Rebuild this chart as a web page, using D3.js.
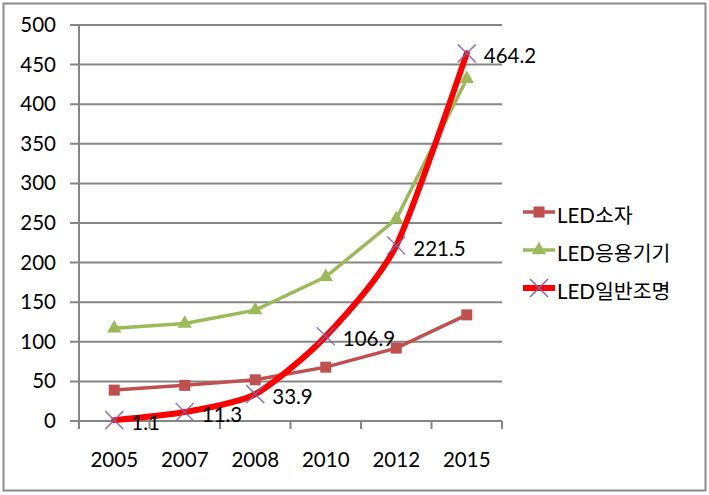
<!DOCTYPE html>
<html><head><meta charset="utf-8">
<script src="https://cdn.jsdelivr.net/npm/d3@7/dist/d3.min.js"></script>
<style>body{margin:0;background:#fff;}svg{display:block;}</style>
</head><body>
<svg id="c" width="709" height="495"></svg>
<script>
const categories = ["2005","2007","2008","2010","2012","2015"];
const seriesNames = ["LED소자","LED응용기기","LED일반조명"];
const ledDevice = [39, 45, 52, 68, 92, 134];
const ledApplied = [117, 123, 140, 182, 255, 432];
const ledLighting = [1.1, 11.3, 33.9, 106.9, 221.5, 464.2];
const yTicks = [0,50,100,150,200,250,300,350,400,450,500];

const font = "Lato, 'Noto Sans CJK KR', sans-serif";
const fs = 20.5;
const svg = d3.select("#c");
svg.append("rect").attr("x",3.5).attr("y",3.5).attr("width",702).attr("height",487)
  .attr("fill","#fff").attr("stroke","#8c8c8c").attr("stroke-width",2);

const x = d3.scaleBand().domain(categories).range([79,502]);
const y = d3.scaleLinear().domain([0,500]).range([421,25]);

// gridlines
svg.append("g").selectAll("line").data(yTicks).join("line")
  .attr("x1",70).attr("x2",502).attr("y1",d=>y(d)).attr("y2",d=>y(d))
  .attr("stroke","#868686").attr("stroke-width",2);

// y axis
const ya = svg.append("g").attr("transform","translate(79,0)")
  .call(d3.axisLeft(y).tickValues(yTicks).tickSize(0).tickPadding(23));
ya.select(".domain").attr("stroke","#868686").attr("stroke-width",2).attr("d","M0,25V428");
ya.selectAll("text").attr("font-family",font).attr("font-size",fs).attr("fill","#000");

// x axis
const xa = svg.append("g").attr("transform","translate(0,421)")
  .call(d3.axisBottom(x).tickSize(0).tickPadding(31));
xa.select(".domain").remove();
xa.selectAll("text").attr("font-family",font).attr("font-size",fs).attr("fill","#000");
const bounds = categories.map(c=>x(c)).concat([x.range()[1]]);
svg.append("g").selectAll("line").data(bounds).join("line")
  .attr("x1",d=>d).attr("x2",d=>d).attr("y1",421).attr("y2",429)
  .attr("stroke","#868686").attr("stroke-width",2);

const cx = c => x(c) + x.bandwidth()/2;

// series 1
const line = d3.line().x((d,i)=>cx(categories[i])).y(d=>y(d));
svg.append("path").attr("d",line(ledDevice)).attr("fill","none")
  .attr("stroke","#c0504d").attr("stroke-width",3.5);
svg.append("g").selectAll("rect").data(ledDevice).join("rect")
  .attr("x",(d,i)=>cx(categories[i])-5.5).attr("y",d=>y(d)-5.5)
  .attr("width",11).attr("height",11).attr("fill","#c0504d");

// series 2
svg.append("path").attr("d",line(ledApplied)).attr("fill","none")
  .attr("stroke","#9bbb59").attr("stroke-width",3.5);
const tri = d3.symbol().type(d3.symbolTriangle).size(90);
svg.append("g").selectAll("path").data(ledApplied).join("path")
  .attr("d",tri).attr("transform",(d,i)=>`translate(${cx(categories[i])},${y(d)})`)
  .attr("fill","#9bbb59");

// series 3
const sline = d3.line().x((d,i)=>cx(categories[i])).y(d=>y(d)).curve(d3.curveCardinal.tension(0.3));
svg.append("path").attr("d",sline(ledLighting)).attr("fill","none")
  .attr("stroke","#ff0000").attr("stroke-width",6).attr("stroke-linecap","round");
const xm = svg.append("g");
ledLighting.forEach((d,i)=>{
  const px=cx(categories[i]), py=y(d), s=9;
  xm.append("path").attr("d",`M${px-s},${py-s}L${px+s},${py+s}M${px-s},${py+s}L${px+s},${py-s}`)
    .attr("stroke","#8064a2").attr("stroke-width",1.5).attr("opacity",0.85);
});
svg.append("g").selectAll("text").data(ledLighting).join("text")
  .attr("x",(d,i)=>cx(categories[i])+17).attr("y",d=>y(d)+2)
  .attr("dominant-baseline","central")
  .attr("font-family",font).attr("font-size",fs).attr("fill","#000")
  .text(d=>d.toFixed(1));

// legend
const ly = [215, 253, 291];
const lg = svg.append("g");
seriesNames.forEach((n,i)=>{
  const yy = ly[i];
  const col = ["#c0504d","#9bbb59","#ff0000"][i];
  lg.append("line").attr("x1",523).attr("x2",555).attr("y1",yy-3).attr("y2",yy-3)
    .attr("stroke",col).attr("stroke-width",i==2?6:3.5);
  if(i==0) lg.append("rect").attr("x",533.5).attr("y",yy-8.5).attr("width",11).attr("height",11).attr("fill",col);
  if(i==1) lg.append("path").attr("d",tri).attr("transform",`translate(539,${yy-3})`).attr("fill",col);
  if(i==2) lg.append("path").attr("d",`M530,${yy-12}L548,${yy+6}M530,${yy+6}L548,${yy-12}`)
    .attr("stroke","#8064a2").attr("stroke-width",1.5);
  lg.append("text").attr("x",557).attr("y",yy).attr("dominant-baseline","central")
    .attr("font-family",font).attr("font-size",fs).attr("fill","#000").text(n);
});
</script>
</body></html>
